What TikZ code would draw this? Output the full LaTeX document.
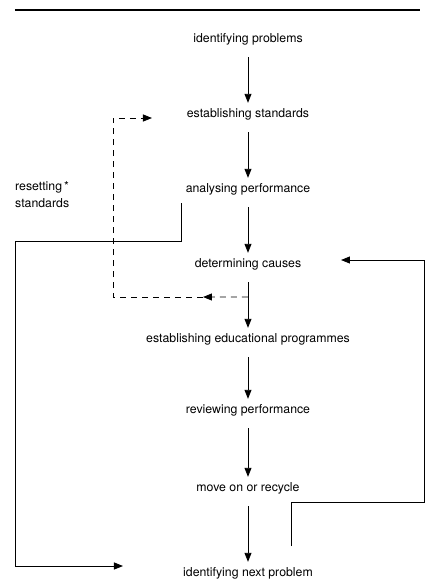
\documentclass[tikz,border=0pt]{standalone}
\usepackage{fontspec}
\setmainfont{TeX Gyre Heros}
\usetikzlibrary{calc,arrows.meta}

\begin{document}
\begin{tikzpicture}[x=1pt,y=1pt,node distance=75pt]
	\tikzstyle{stage} = [font=\fontsize{12.3}{15}\selectfont, inner xsep=2pt, inner ysep=5pt, text height=9pt, text depth=3pt]
	\tikzstyle{arrow} = [line width=0.9pt, -{Triangle[width=7pt,length=9pt]}, shorten <=7pt]
	\tikzstyle{feedback} = [line width=0.9pt, -{Triangle[width=7pt,length=9pt]}]
	\tikzstyle{dashback} = [feedback, dash pattern=on 6pt off 5pt]
	
	\useasboundingbox (-248,39) rectangle (181,-545);
	\draw [line width=1.4pt] (-233,29) -- (172,29);
	
	\node (problems) [stage] {identifying problems};
	\node (standards) [stage, below of=problems] {establishing standards};
	\node (analysing) [stage, below of=standards] {analysing performance};
	\node (causes) [stage, below of=analysing] {determining causes};
	\node (programmes) [stage, below of=causes] {establishing educational programmes};
	\node (reviewing) [stage, below of=programmes, yshift=4pt] {reviewing performance};
	\node (moveon) [stage, below of=reviewing, yshift=-3pt] {move on or recycle};
	\node (nextproblem) [stage, below of=moveon, yshift=-10pt] {identifying next problem};
	\node (resetting) [font=\fontsize{12.3}{17}\selectfont, align=left, anchor=west, inner sep=0pt] at (-233,-156) {resetting\,*\\standards};
	
	\coordinate (branch) at ($(causes)!0.44!(programmes)$);
	\coordinate (dashmid) at (-45,-258);
	\coordinate (dashcorner) at (-135,-258);
	\coordinate (dashtip) at (-96,-79);
	\coordinate (resetfrom) at (-67,-164);
	\coordinate (leftcorner) at (-233,-202);
	\coordinate (resettip) at (-125,-527);
	\coordinate (recyclefrom) at (43,-507);
	\coordinate (rightcorner) at (176,-463);
	\coordinate (recycletip) at (93,-221);
	
	\draw [arrow] (problems) -- (standards);
	\draw [arrow] (standards) -- (analysing);
	\draw [arrow] (analysing) -- (causes);
	\draw [arrow] (causes) -- (programmes);
	\draw [arrow] (programmes) -- (reviewing);
	\draw [arrow] (reviewing) -- (moveon);
	\draw [arrow] (moveon) -- (nextproblem);
	\draw [dashback] (branch) -- (dashmid);
	\draw [dashback] (dashmid) -- (dashcorner) |- (dashtip);
	\draw [feedback] (resetfrom) |- (leftcorner) |- (resettip);
	\draw [feedback] (recyclefrom) |- (rightcorner) |- (recycletip);
\end{tikzpicture}
\end{document}
